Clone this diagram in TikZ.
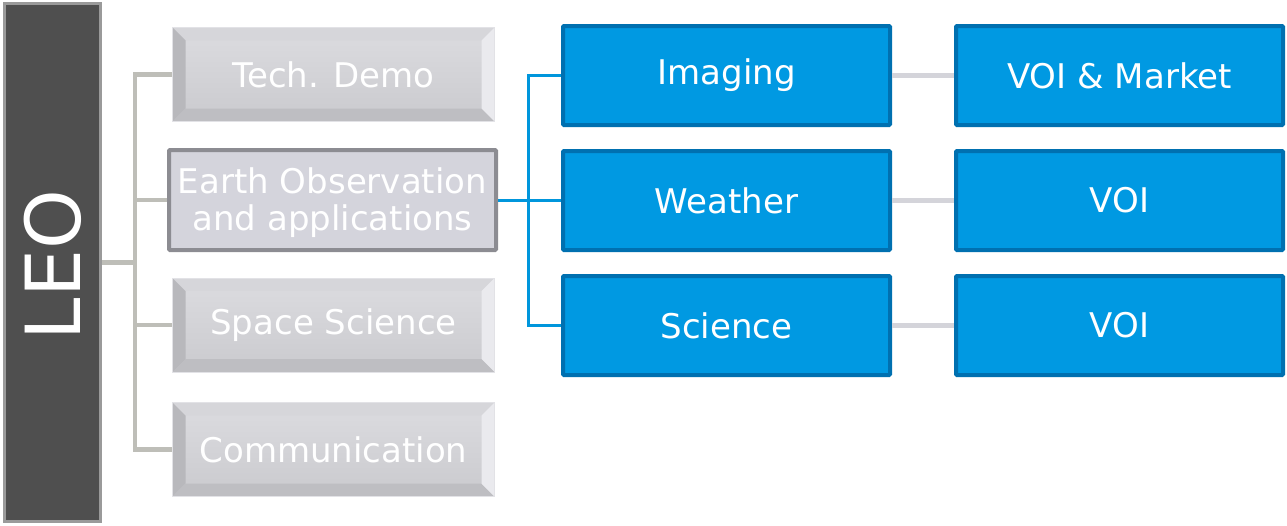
\documentclass[tikz,border=0pt]{standalone}
\usepackage{fontspec}
\setmainfont{DejaVu Sans}
\definecolor{leofill}{HTML}{4F4F4F}
\definecolor{leoborder}{HTML}{9A9A9A}
\definecolor{facetop}{HTML}{DCDCE0}
\definecolor{facebot}{HTML}{CACACE}
\definecolor{bevT}{HTML}{D6D6DA}
\definecolor{bevL}{HTML}{B8B8BC}
\definecolor{bevB}{HTML}{BEBEC2}
\definecolor{bevR}{HTML}{EAEAEE}
\definecolor{bevborder}{HTML}{E2E2E6}
\definecolor{eofill}{HTML}{D4D4DC}
\definecolor{eoborder}{HTML}{8C8C92}
\definecolor{bluefill}{HTML}{0099E2}
\definecolor{blueborder}{HTML}{0070B0}
\definecolor{blueline}{HTML}{0096DC}
\definecolor{grayline}{HTML}{BEBEB8}
\definecolor{rline}{HTML}{D4D4DA}
\tikzset{
  txt/.style={text=white, font=\fontsize{34}{36}\selectfont, align=center, inner sep=0pt},
  bevbox/.style={txt, minimum width=322pt, minimum height=94pt, top color=facetop, bottom color=facebot,
    draw=bevborder, line width=1pt,
    path picture={
      \coordinate (pNW) at (path picture bounding box.north west);
      \coordinate (pNE) at (path picture bounding box.north east);
      \coordinate (pSW) at (path picture bounding box.south west);
      \coordinate (pSE) at (path picture bounding box.south east);
      \fill[bevT] (pNW) -- (pNE) -- ([shift={(-13pt,-13pt)}]pNE) -- ([shift={(13pt,-13pt)}]pNW) -- cycle;
      \fill[bevL] (pNW) -- ([shift={(13pt,-13pt)}]pNW) -- ([shift={(13pt,13pt)}]pSW) -- (pSW) -- cycle;
      \fill[bevB] (pSW) -- ([shift={(13pt,13pt)}]pSW) -- ([shift={(-13pt,13pt)}]pSE) -- (pSE) -- cycle;
      \fill[bevR] (pNE) -- (pSE) -- ([shift={(-13pt,13pt)}]pSE) -- ([shift={(-13pt,-13pt)}]pNE) -- cycle;
    }},
  bluebox/.style={txt, minimum width=327pt, minimum height=99pt, fill=bluefill, draw=blueborder, line width=4pt, rounded corners=1pt},
  gl/.style={draw=grayline, line width=4.5pt},
  bl/.style={draw=blueline, line width=3pt},
  rl/.style={draw=rline, line width=5pt},
}
\begin{document}
\begin{tikzpicture}[x=1pt,y=1pt]
\useasboundingbox (0,0) rectangle (1287,-525);
% LEO
\node[fill=leofill, draw=leoborder, line width=2.5pt, minimum width=96pt, minimum height=518pt, inner sep=0pt] (leo) at (52.5,-262.5) {};
\node[rotate=90, text=white, font=\fontsize{76}{80}\selectfont, inner sep=0pt] (leotxt) at (52.5,-265) {LEO};
% left column
\node[bevbox] (tech) at (333.5,-74.5) {Tech. Demo};
\node[txt, font=\fontsize{34}{37}\selectfont, text depth=2pt, minimum width=327pt, minimum height=100pt, fill=eofill, draw=eoborder, line width=4pt, rounded corners=1pt] (eo) at (332.5,-200) {Earth Observation\\and applications};
\node[bevbox] (space) at (333.5,-325) {Space Science};
\node[bevbox] (comm) at (333.5,-449.5) {Communication};
% blue columns
\node[bluebox] (im) at (726.5,-75.5) {Imaging};
\node[bluebox] (we) at (726.5,-200.5) {Weather};
\node[bluebox] (sc) at (726.5,-325.5) {Science};
\node[bluebox] (v1) at (1119.5,-75.5) {VOI \& Market};
\node[bluebox] (v2) at (1119.5,-200.5) {VOI};
\node[bluebox] (v3) at (1119.5,-325.5) {VOI};
% gray trunk
\coordinate (tr) at (135,0);
\draw[gl] (tech.west) -| (tr |- comm.west) -- (comm.west);
\draw[gl] (leo.east) -- (tr |- leo.east);
\foreach \n in {eo,space} \draw[gl] (tr |- \n.west) -- (\n.west);
% blue trunk
\coordinate (br) at (528,0);
\draw[bl] (eo.east) -- (br |- eo.east);
\draw[bl] (im.west) -| (br |- sc.west) -- (sc.west);
\draw[bl] (br |- we.west) -- (we.west);
% right connectors
\draw[rl] (im.east) -- (v1.west);
\draw[rl] (we.east) -- (v2.west);
\draw[rl] (sc.east) -- (v3.west);
\end{tikzpicture}
\end{document}
